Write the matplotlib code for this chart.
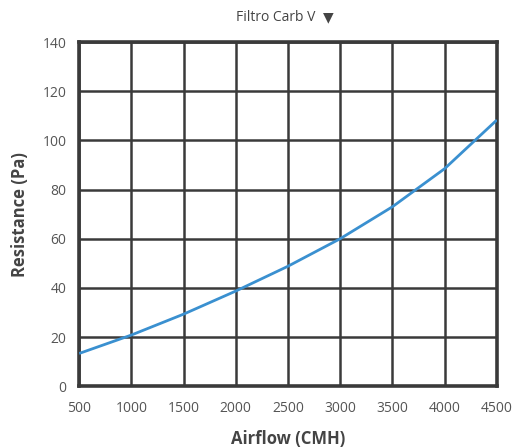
import matplotlib
matplotlib.use("Agg")
import matplotlib.pyplot as plt

plt.rcParams['font.family'] = ['Open Sans', 'DejaVu Sans']

airflow = [500, 1000, 1500, 2000, 2500, 3000, 3500, 4000, 4500]
resistance = [13.3, 20.8, 29.3, 38.7, 48.8, 60.0, 73.0, 88.5, 108.3]
x_ticks = [500, 1000, 1500, 2000, 2500, 3000, 3500, 4000, 4500]
y_ticks = [0, 20, 40, 60, 80, 100, 120, 140]

fig = plt.figure(figsize=(5.17, 4.48), dpi=100)
ax = fig.add_axes([0.153, 0.138, 0.808, 0.768])

ax.plot(airflow, resistance, color='#3a90d0', lw=2.0, solid_capstyle='butt', zorder=3)

ax.set_xlim(500, 4500)
ax.set_ylim(0, 140)
ax.set_xticks(x_ticks)
ax.set_yticks(y_ticks)
ax.grid(True, color='#3a3a3a', lw=1.8, zorder=1)
ax.set_axisbelow(True)
for s in ax.spines.values():
    s.set_color('#3a3a3a')
    s.set_linewidth(2.6)
ax.tick_params(length=0, labelsize=10, labelcolor='#555555')
ax.tick_params(axis='x', pad=11)
ax.tick_params(axis='y', pad=9)
ax.set_xlabel('Airflow (CMH)', fontsize=12, fontweight='bold', color='#444444', labelpad=10)
ax.set_ylabel('Resistance (Pa)', fontsize=12, fontweight='bold', color='#444444', labelpad=10)

fig.text(0.54, 0.962, 'Filtro Carb V  ', fontsize=10, color='#444444', ha='center', va='center')
fig.text(0.635, 0.962, '▼', fontsize=10, color='#444444', ha='center', va='center', family=['DejaVu Sans'])

fig.savefig('out.png', dpi=100)
